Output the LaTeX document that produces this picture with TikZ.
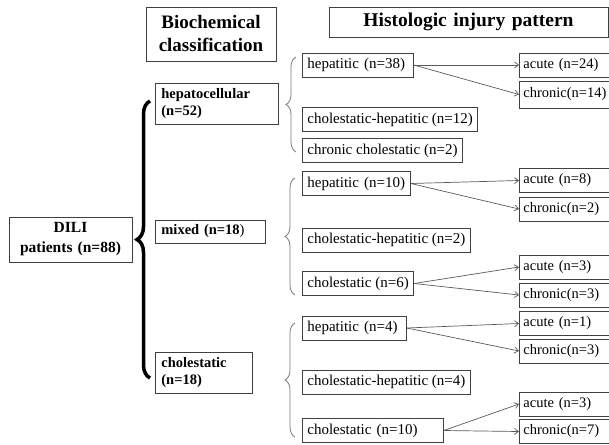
\documentclass[tikz,border=0pt]{standalone}
\usepackage{fontspec}
\setmainfont{Liberation Serif}
\usepackage{tikz}
\usetikzlibrary{decorations.pathreplacing,arrows.meta}
\definecolor{Trait}{RGB}{64,64,64}
\definecolor{Fleche}{RGB}{90,90,90}
\definecolor{Accolade}{RGB}{120,120,120}
\tikzset{
TitleBox/.style={
 draw=Trait, 
 line width=0.8pt, 
 inner xsep=6pt, 
 inner ysep=0pt, 
 align=center, 
 text width=#1, 
 font=\bfseries\fontsize{19}{23}\selectfont
 },
ClassBox/.style={
 draw=Trait, 
 line width=0.8pt, 
 anchor=west, 
 inner xsep=6pt, 
 inner ysep=0pt, 
 align=left, 
 text width=#1, 
 font=\bfseries\fontsize{14.5}{17}\selectfont
 },
PatternBox/.style={
 draw=Trait, 
 line width=0.8pt, 
 anchor=west, 
 inner xsep=5pt, 
 inner ysep=0pt, 
 minimum height=24pt, 
 align=left, 
 font=\fontsize{15}{17}\selectfont
 },
CourseBox/.style={
 PatternBox, 
 inner xsep=4pt, 
 text width=92pt, 
 font=\fontsize{14.5}{17}\selectfont
 },
LineArrow/.style={
 draw=Fleche, 
 line width=0.7pt, 
 -{Straight Barb[length=4pt,width=6pt]}
 },
BigBrace/.style={
 draw=black, 
 line width=3.5pt, 
 decorate, 
 decoration={brace,amplitude=13pt}
 },
SmallBrace/.style={
 draw=Accolade, 
 line width=0.8pt, 
 decorate, 
 decoration={brace,amplitude=10pt}
 }
}
\begin{document}
\begin{tikzpicture}[x=1pt,y=-1pt]
\useasboundingbox (0,0) rectangle (609,444);
\node[TitleBox=118pt, minimum height=54pt] (bio) at (211,34) {Biochemical\\classification};
\node[TitleBox=267pt, minimum height=30pt, font=\bfseries\fontsize{19.5}{23}\selectfont] (hist) at (468.5,22) {Histologic injury pattern};
\node[TitleBox=111pt, minimum height=45pt, font=\bfseries\fontsize{15.5}{20}\selectfont] (dili) at (70.5,239.5) {DILI\\patients (n=88)};
\node[ClassBox=111pt, minimum height=41pt] (hepc) at (155,103.5) {hepatocellular\\(n=52)};
\node[ClassBox=98pt, minimum height=23pt] (mix) at (155,231.5) {mixed (n=18\textmd{)}};
\node[ClassBox=85pt, minimum height=41pt] (chol) at (155,372.5) {cholestatic\\(n=18)};
\draw[BigBrace] (150,378) -- (150,101);
\draw[SmallBrace] (296,152) -- (296,57);
\draw[SmallBrace] (295,295) -- (295,178);
\draw[SmallBrace] (295,437) -- (295,323);
\node[PatternBox, text width=101pt] (hepA) at (302,65) {hepatitic (n=38)};
\node[PatternBox] (chA) at (302,119.5) {cholestatic-hepatitic (n=12)};
\node[PatternBox] (ccA) at (302,150.5) {chronic cholestatic (n=2)};
\node[PatternBox, text width=98pt] (hepB) at (302,183.5) {hepatitic (n=10)};
\node[PatternBox] (chB) at (302,240) {cholestatic-hepatitic (n=2)};
\node[PatternBox] (chlB) at (302,283.5) {cholestatic (n=6)};
\node[PatternBox, text width=94pt] (hepC) at (302,328) {hepatitic (n=4)};
\node[PatternBox] (chC) at (302,382) {cholestatic-hepatitic (n=4)};
\node[PatternBox, text width=131pt] (chlC) at (302,430.5) {cholestatic (n=10)};
\node[CourseBox] (acu1) at (519,65) {acute (n=24)};
\node[CourseBox, minimum height=27pt] (chr1) at (519,94.5) {chronic(n=14)};
\node[CourseBox] (acu2) at (519,180.5) {acute (n=8)};
\node[CourseBox] (chr2) at (519,209) {chronic(n=2)};
\node[CourseBox] (acu3) at (519,267) {acute (n=3)};
\node[CourseBox] (chr3) at (519,295) {chronic(n=3)};
\node[CourseBox] (acu4) at (519,323.5) {acute (n=1)};
\node[CourseBox] (chr4) at (519,351) {chronic(n=3)};
\node[CourseBox] (acu5) at (519,404) {acute (n=3)};
\node[CourseBox] (chr5) at (519,431.5) {chronic(n=7)};
\draw[LineArrow] (hepA.east) -- (acu1.west);
\draw[LineArrow] (hepA.east) -- (chr1.west);
\draw[LineArrow] (hepB.east) -- (acu2.west);
\draw[LineArrow] (hepB.east) -- (chr2.west);
\draw[LineArrow] (chlB.east) -- (acu3.west);
\draw[LineArrow] (chlB.east) -- (chr3.west);
\draw[LineArrow] (hepC.east) -- (acu4.west);
\draw[LineArrow] (hepC.east) -- (chr4.west);
\draw[LineArrow] (chlC.east) -- (acu5.west);
\draw[LineArrow] (chlC.east) -- (chr5.west);
\end{tikzpicture}
\end{document}
